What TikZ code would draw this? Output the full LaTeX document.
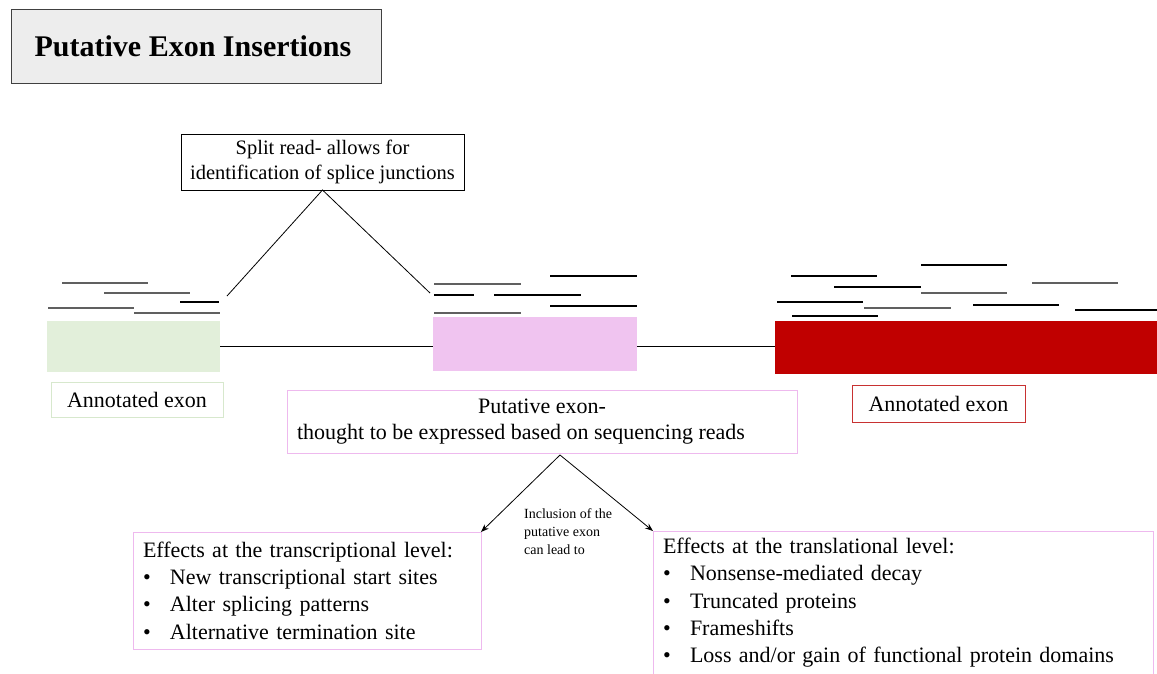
\documentclass[tikz,border=0pt]{standalone}
\usepackage{fontspec}
\setmainfont{Liberation Serif}
\usetikzlibrary{arrows.meta}
\definecolor{exongreen}{RGB}{226,239,218}
\definecolor{greenline}{RGB}{215,232,205}
\definecolor{exonpink}{RGB}{240,196,240}
\definecolor{pinkline}{RGB}{238,185,238}
\definecolor{exonred}{RGB}{192,0,0}
\definecolor{redline}{RGB}{200,50,50}
\definecolor{titlefill}{RGB}{237,237,237}
\definecolor{titleline}{RGB}{64,64,64}
\definecolor{readgray}{RGB}{96,96,96}
\begin{document}
\begin{tikzpicture}[x=1pt,y=-1pt,
  box/.style={draw, rectangle, inner sep=0pt, outer sep=0pt},
  exon/.style={rectangle, inner sep=0pt, outer sep=0pt},
  read/.style={line width=1.4pt, line cap=butt},
  grayread/.style={read, line width=1.6pt, draw=readgray},
  txt/.style={font=\fontsize{22}{26}\selectfont},
  listtxt/.style={font=\fontsize{22}{27.3}\selectfont},
  link/.style={line width=0.8pt},
  arr/.style={link, -{Stealth[length=8pt,width=6pt]}}]

\useasboundingbox (0,0) rectangle (1157,673);
\clip (0,0) rectangle (1157,673);
\fill[white] (0,0) rectangle (1157,673);

% heading
\node[box, draw=titleline, fill=titlefill, line width=1pt,
      minimum width=370pt, minimum height=74pt,
      font=\bfseries\fontsize{30}{34}\selectfont] (title) at (196,46)
      {Putative Exon Insertions\rule{6pt}{0pt}};

% split read callout
\node[box, line width=0.8pt, minimum width=283pt, minimum height=56pt, align=center,
      font=\fontsize{20.5}{25}\selectfont] (split) at (322.5,162)
      {Split read- allows for\\identification of splice junctions};

% exons
\node[exon, fill=exongreen, minimum width=173pt, minimum height=51pt] (ex1) at (133.5,346.5) {};
\node[exon, fill=exonpink, minimum width=204pt, minimum height=54pt] (ex2) at (535,344) {};
\node[exon, fill=exonred, minimum width=382pt, minimum height=53pt] (ex3) at (966,347.5) {};

% introns
\draw[link] (ex1.east) -- (ex1.east -| ex2.west);
\draw[link] (ex2.east |- ex1.east) -- (ex1.east -| ex3.west);

% reads over the first exon
\draw[grayread] (62,283) -- (148,283);
\draw[grayread] (104,293) -- (190,293);
\draw[read] (180,302) -- (219,302);
\draw[grayread] (48,308) -- (134,308);
\draw[grayread] (134,313) -- (220,313);

% reads over the putative exon
\draw[read] (550,276) -- (637,276);
\draw[grayread] (434,284) -- (521,284);
\draw[read] (434,295) -- (474,295);
\draw[read] (494,295) -- (581,295);
\draw[read] (550,306) -- (637,306);
\draw[grayread] (434,313) -- (521,313);

% reads over the last exon
\draw[read] (921,265) -- (1007,265);
\draw[read] (791,276) -- (877,276);
\draw[grayread] (1032,283) -- (1118,283);
\draw[read] (834,287) -- (921,287);
\draw[grayread] (921,293) -- (1007,293);
\draw[read] (777,302) -- (863,302);
\draw[read] (973,305) -- (1059,305);
\draw[grayread] (864,308) -- (951,308);
\draw[read] (1075,310) -- (1157,310);
\draw[read] (792,316) -- (878,316);

% split read joining the two exons
\coordinate (jl) at (227,296);
\coordinate (jr) at (430,293);
\draw[link] (jl) -- (split.south) -- (jr);

% exon labels
\node[box, draw=greenline, line width=1pt, minimum width=172pt, minimum height=35pt, txt]
      (lab1) at (137,399.5) {Annotated exon};
\node[box, draw=redline, line width=1pt, minimum width=173pt, minimum height=37pt, txt]
      (lab3) at (938.5,403.5) {Annotated exon};
\node[box, draw=pinkline, line width=1pt, minimum width=510pt, minimum height=63pt,
      align=center, txt] (put) at (542,421.5)
      {Putative exon-\\thought to be expressed based on sequencing reads\rule{42pt}{0pt}};

% consequences
\node[box, draw=pinkline, line width=1pt, anchor=north west, text width=328pt,
      inner xsep=10pt, inner ysep=0pt, minimum height=117pt, align=left, listtxt]
      (leff) at (133,532)
      {Effects at the transcriptional level:\\
       \makebox[27pt][l]{\textbullet}New transcriptional start sites\\
       \makebox[27pt][l]{\textbullet}Alter splicing patterns\\
       \makebox[27pt][l]{\textbullet}Alternative termination site};
\node[box, draw=pinkline, line width=1pt, anchor=north west, text width=480pt,
      inner xsep=10pt, inner ysep=7pt, align=left, listtxt]
      (reff) at (653,531)
      {Effects at the translational level:\\
       \makebox[27pt][l]{\textbullet}Nonsense-mediated decay\\
       \makebox[27pt][l]{\textbullet}Truncated proteins\\
       \makebox[27pt][l]{\textbullet}Frameshifts\\
       \makebox[27pt][l]{\textbullet}Loss and/or gain of functional protein domains\\[20pt]};

\coordinate (fork) at (560,455);
\draw[arr] (fork) -- (leff.north east);
\draw[arr] (fork) -- (reff.north west);

\node[anchor=north west, align=left, inner sep=0pt, font=\fontsize{14}{18}\selectfont]
      (incl) at (524,508) {Inclusion of the\\putative exon\\can lead to};
\end{tikzpicture}
\end{document}
